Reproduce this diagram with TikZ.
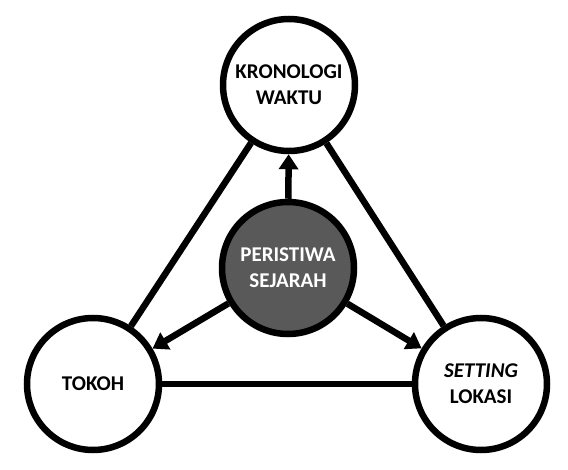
\documentclass[tikz,border=0pt]{standalone}
\usepackage{fontspec}
\setmainfont{Carlito}
\usetikzlibrary{arrows.meta}
\tikzset{blob/.style = {draw, circle, line width=6.5pt, minimum size=132pt,
                        inner sep=0, align=center, fill=white,
                        font=\bfseries\fontsize{21}{26}\selectfont}}
\tikzset{link/.style = {line width=6.5pt}}
\tikzset{arr/.style = {line width=6.5pt, -{Triangle[length=15pt,width=19pt]}}}

\begin{document}
\begin{tikzpicture}[x=1pt, y=1pt]
    \useasboundingbox (0,0) rectangle (568,469);
    \node[blob] (waktu) at (289,384) {KRONOLOGI\\WAKTU};
    \node[blob, fill={rgb,255:red,89;green,89;blue,89}, text=white]
        (peristiwa) at (288,201) {PERISTIWA\\SEJARAH};
    \node[blob] (tokoh) at (93,85) {TOKOH};
    \node[blob] (lokasi) at (481,85) {\textit{SETTING}\\LOKASI};
    % outer triangle
    \draw[link] (waktu) -- (tokoh);
    \draw[link] (waktu) -- (lokasi);
    \draw[link] (tokoh) -- (lokasi);
    % arrows out of the centre
    \foreach \t in {waktu, tokoh, lokasi} {
        \draw[arr] (peristiwa) -- (\t);
    }
\end{tikzpicture}
\end{document}
